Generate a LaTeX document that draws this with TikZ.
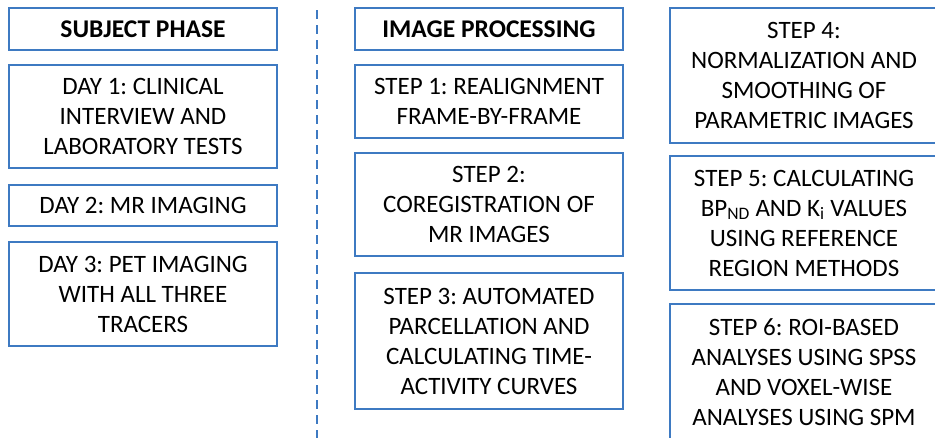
\documentclass[tikz,border=0pt]{standalone}
\usepackage{fontspec}
\setmainfont{Carlito}
\definecolor{boxblue}{RGB}{62,122,194}
\begin{document}
\frenchspacing
\begin{tikzpicture}[x=1pt,y=-1pt,
  box/.style={draw=boxblue,line width=2.8pt,fill=white,align=center,inner sep=0pt,
    font=\fontsize{25}{30}\selectfont,text=black},
  hdr/.style={box,font=\fontsize{25.5}{30}\selectfont\bfseries}]
\useasboundingbox (0,0) rectangle (935,437);
\clip (0,0) rectangle (935,437);
% column 1
\node[hdr,minimum width=268pt,minimum height=42pt] (sp) at (143,29) {SUBJECT PHASE};
\node[box,minimum width=268pt,minimum height=103pt] (d1) at (143,116.5) {DAY 1: CLINICAL\\INTERVIEW AND\\LABORATORY TESTS};
\node[box,minimum width=268pt,minimum height=41pt] (d2) at (143,205.5) {DAY 2: MR IMAGING};
\node[box,minimum width=268pt,minimum height=104pt] (d3) at (143,294) {DAY 3: PET IMAGING\\WITH ALL THREE\\TRACERS};
% divider
\coordinate (dt) at (317,10);
\coordinate (db) at (317,440);
\draw[boxblue,line width=2.4pt,dash pattern=on 9pt off 6pt] (dt) -- (db);
% column 2
\node[hdr,minimum width=268pt,minimum height=42pt] (ip) at (489,29) {IMAGE PROCESSING};
\node[box,minimum width=268pt,minimum height=73pt] (s1) at (489,101.5) {STEP 1: REALIGNMENT\\FRAME-BY-FRAME};
\node[box,minimum width=268pt,minimum height=103pt] (s2) at (489,204.5) {STEP 2:\\COREGISTRATION OF\\MR IMAGES};
\node[box,minimum width=268pt,minimum height=136pt] (s3) at (489,341) {STEP 3: AUTOMATED\\PARCELLATION AND\\CALCULATING TIME-\\ACTIVITY CURVES};
% column 3
\node[box,minimum width=268pt,minimum height=135pt] (s4) at (804,75.5) {STEP 4:\\NORMALIZATION AND\\SMOOTHING OF\\PARAMETRIC IMAGES};
\node[box,minimum width=268pt,minimum height=134pt] (s5) at (804,223) {STEP 5: CALCULATING\\BP\textsubscript{ND} AND K\textsubscript{i} VALUES\\USING REFERENCE\\REGION METHODS};
\node[box,minimum width=268pt,minimum height=136pt] (s6) at (804,372) {STEP 6: ROI-BASED\\ANALYSES USING SPSS\\AND VOXEL-WISE\\ANALYSES USING SPM};
\end{tikzpicture}
\end{document}
